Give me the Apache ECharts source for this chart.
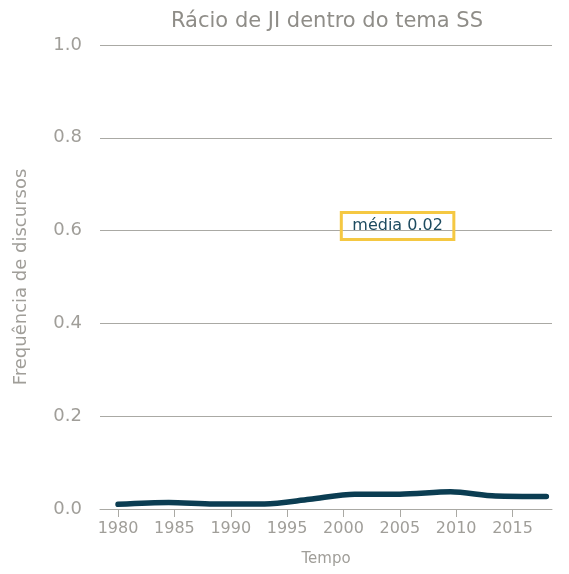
<!DOCTYPE html>
<html>
<head>
<meta charset="utf-8">
<script src="https://cdn.jsdelivr.net/npm/echarts@6/dist/echarts.min.js"></script>
<style>
  html, body { margin: 0; padding: 0; background: #fff; }
  #chart { width: 569px; height: 574px; }
</style>
</head>
<body>
<div id="chart"></div>
<script>
// dados
const years = [1980, 1984.5, 1988.5, 1993, 1997, 2001, 2005, 2009.5, 2013.5, 2018]
const ratio = [0.010, 0.014, 0.011, 0.011, 0.021, 0.032, 0.032, 0.037, 0.028, 0.027]
const xTicks = [1980, 1985, 1990, 1995, 2000, 2005, 2010, 2015]
const meanLabel = 'média 0.02'
const meanPos = [2004.8, 0.61]

const grey = '#a09e99'
const font = 'DejaVu Sans'

const chart = echarts.init(document.getElementById('chart'))
const options = {
  backgroundColor: '#fff',
  animation: false,
  textStyle: { fontFamily: font },
  title: {
    text: 'Rácio de JI dentro do tema SS',
    left: 322,
    textAlign: 'center',
    top: 6,
    textStyle: { color: '#8f8d88', fontSize: 21, fontWeight: 'normal', fontFamily: font },
  },
  grid: { left: 100, right: 17, top: 45, bottom: 65 },
  xAxis: {
    type: 'value',
    min: 1978.4,
    max: 2018.5,
    name: 'Tempo',
    nameLocation: 'middle',
    nameGap: 43,
    nameTextStyle: { color: grey, fontSize: 15 },
    axisLine: { show: true, lineStyle: { color: '#aaa9a4', width: 1 } },
    axisTick: { show: true, length: 8, customValues: xTicks, lineStyle: { color: '#aaa9a4' } },
    axisLabel: { customValues: xTicks, color: grey, fontSize: 16, margin: 12, formatter: (v) => String(v) },
    splitLine: { show: false },
  },
  yAxis: {
    type: 'value',
    min: 0,
    max: 1,
    interval: 0.2,
    name: 'Frequência de discursos',
    nameLocation: 'middle',
    nameGap: 70,
    nameTextStyle: { color: grey, fontSize: 18 },
    axisLine: { show: false },
    axisTick: { show: false },
    axisLabel: { color: grey, fontSize: 18, margin: 18, formatter: (v) => v.toFixed(1) },
    splitLine: { lineStyle: { color: '#aaa9a4', width: 1 } },
  },
  series: [
    {
      type: 'line',
      data: years.map((y, i) => [y, ratio[i]]),
      smooth: 0.3,
      showSymbol: false,
      lineStyle: { color: '#0b3d52', width: 5.5, cap: 'round' },
      markPoint: {
        symbol: 'rect',
        symbolSize: 0,
        data: [{ coord: meanPos }],
        label: {
          show: true,
          position: 'inside',
          formatter: meanLabel,
          color: '#1d4b60',
          fontSize: 16,
          fontFamily: font,
          borderColor: '#f5c842',
          borderWidth: 1.5,
          padding: [6, 11, 5, 11],
          backgroundColor: 'rgba(255,255,255,0)',
        },
      },
    },
  ],
}
chart.setOption(options)
</script>
</body>
</html>
